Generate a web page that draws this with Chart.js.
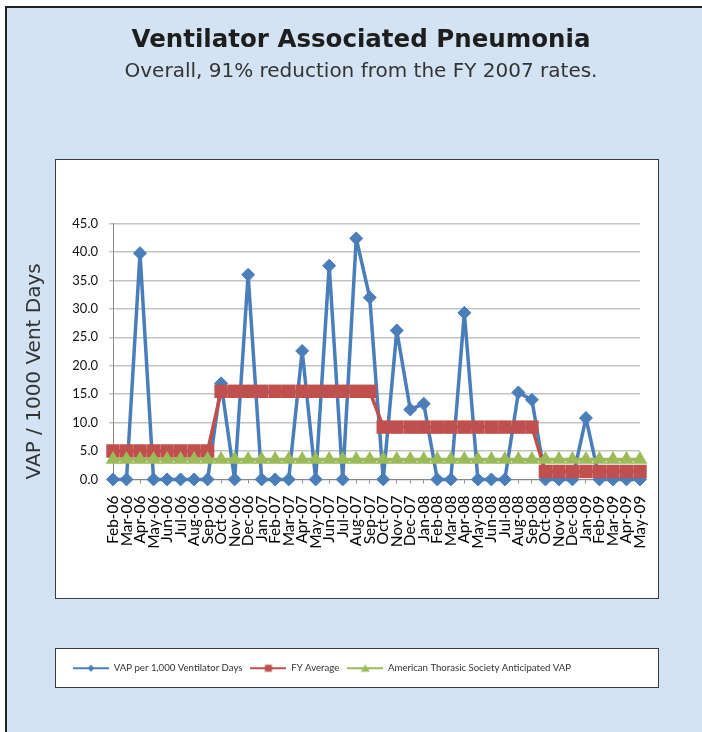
<!DOCTYPE html>
<html>
<head>
<meta charset="utf-8">
<script src="https://cdn.jsdelivr.net/npm/chart.js@4.4.1/dist/chart.umd.min.js"></script>
<style>
html,body{margin:0;padding:0;background:#fff;}
#wrap{position:relative;width:702px;height:732px;overflow:hidden;}
#panel{position:absolute;left:5px;top:6px;right:0;bottom:0;background:#d3e3f3;border-left:2.5px solid #222;border-top:2.5px solid #222;}
#plotbox{position:absolute;left:55px;top:159px;width:604px;height:440px;box-sizing:border-box;background:#fff;border:1.5px solid #3c3c3c;}
#legbox{position:absolute;left:55px;top:648px;width:604px;height:40px;box-sizing:border-box;background:#fff;border:1.5px solid #3c3c3c;}
#c{position:absolute;left:0;top:0;width:702px;height:732px;}
</style>
</head>
<body>
<div id="wrap">
  <div id="panel"></div>
  <div id="plotbox"></div>
  <div id="legbox"></div>
  <canvas id="c" width="702" height="732"></canvas>
</div>
<script>
// ---- Data ----
const months = ['Feb-06','Mar-06','Apr-06','May-06','Jun-06','Jul-06','Aug-06','Sep-06','Oct-06','Nov-06','Dec-06',
  'Jan-07','Feb-07','Mar-07','Apr-07','May-07','Jun-07','Jul-07','Aug-07','Sep-07','Oct-07','Nov-07','Dec-07',
  'Jan-08','Feb-08','Mar-08','Apr-08','May-08','Jun-08','Jul-08','Aug-08','Sep-08','Oct-08','Nov-08','Dec-08',
  'Jan-09','Feb-09','Mar-09','Apr-09','May-09'];

const vapPer1000 = [0, 0, 39.8, 0, 0, 0, 0, 0, 16.9, 0, 36.0,
  0, 0, 0, 22.6, 0, 37.6, 0, 42.4, 32.0, 0, 26.2, 12.3,
  13.3, 0, 0, 29.3, 0, 0, 0, 15.3, 14.0, 0, 0, 0,
  10.8, 0, 0, 0, 0];

const fyAverage = [5.0, 5.0, 5.0, 5.0, 5.0, 5.0, 5.0, 5.0, 15.5, 15.5, 15.5,
  15.5, 15.5, 15.5, 15.5, 15.5, 15.5, 15.5, 15.5, 15.5, 9.2, 9.2, 9.2,
  9.2, 9.2, 9.2, 9.2, 9.2, 9.2, 9.2, 9.2, 9.2, 1.4, 1.4, 1.4,
  1.4, 1.4, 1.4, 1.4, 1.4];

const atsAnticipated = [3.5, 3.5, 3.5, 3.5, 3.5, 3.5, 3.5, 3.5, 3.5, 3.5, 3.5,
  3.5, 3.5, 3.5, 3.5, 3.5, 3.5, 3.5, 3.5, 3.5, 3.5, 3.5, 3.5,
  3.5, 3.5, 3.5, 3.5, 3.5, 3.5, 3.5, 3.5, 3.5, 3.5, 3.5, 3.5,
  3.5, 3.5, 3.5, 3.5, 3.5];

const seriesNames = ['VAP per 1,000 Ventilator Days', 'FY Average', 'American Thorasic Society Anticipated VAP'];
const yTicksMin = 0, yTicksMax = 45, yTickStep = 5;

// ---- Styles ----
const BLUE = '#4a7ebb', RED = '#c0504d', GREEN = '#9bbb59';

function legendIcon(color, shape) {
  const c = document.createElement('canvas');
  c.width = 36; c.height = 10;
  const g = c.getContext('2d');
  g.strokeStyle = color; g.lineWidth = 2;
  g.beginPath(); g.moveTo(0, 5); g.lineTo(36, 5); g.stroke();
  g.fillStyle = color;
  g.beginPath();
  if (shape === 'diamond') { g.moveTo(18, 1.5); g.lineTo(21.5, 5); g.lineTo(18, 8.5); g.lineTo(14.5, 5); g.closePath(); }
  else if (shape === 'square') { g.rect(14.5, 1.5, 7, 7); }
  else { g.moveTo(18, 1); g.lineTo(22.5, 8.5); g.lineTo(13.5, 8.5); g.closePath(); }
  g.fill();
  return c;
}
const icons = [legendIcon(BLUE, 'diamond'), legendIcon(RED, 'square'), legendIcon(GREEN, 'triangle')];

const legendOffset = {
  id: 'legendOffset',
  afterLayout(chart) {
    const lg = chart.legend;
    if (lg) { lg.left += 45; lg.right += 45; }
  }
};

new Chart(document.getElementById('c'), {
  type: 'line',
  data: {
    labels: months,
    datasets: [
      { label: seriesNames[0], data: vapPer1000, borderColor: BLUE, backgroundColor: BLUE, borderWidth: 3.5,
        borderJoinStyle: 'round',
        pointStyle: 'rectRot', pointRadius: 6.5, pointBorderWidth: 1, pointBackgroundColor: BLUE, pointBorderColor: BLUE,
        tension: 0, clip: false, order: 2 },
      { label: seriesNames[1], data: fyAverage, borderColor: RED, backgroundColor: RED, borderWidth: 3.5,
        borderJoinStyle: 'round',
        pointStyle: 'rect', pointRadius: 9.5, pointBorderWidth: 0, pointBackgroundColor: RED, pointBorderColor: RED,
        tension: 0, clip: false, order: 1 },
      { label: seriesNames[2], data: atsAnticipated, borderColor: GREEN, backgroundColor: GREEN, borderWidth: 3.5,
        borderJoinStyle: 'round',
        pointStyle: 'triangle', pointRadius: 8.5, pointBorderWidth: 0, pointBackgroundColor: GREEN, pointBorderColor: GREEN,
        tension: 0, clip: false, order: 0 }
    ]
  },
  options: {
    responsive: false,
    animation: false,
    devicePixelRatio: 1,
    layout: { padding: { top: 6, left: 20, right: 0, bottom: 49 } },
    plugins: {
      title: { display: true, text: 'Ventilator Associated Pneumonia',
        font: { family: 'DejaVu Sans', size: 24.5, weight: 'bold' }, color: '#1e1e1e',
        padding: { top: 19.6, bottom: 0 } },
      subtitle: { display: true, text: 'Overall, 91% reduction from the FY 2007 rates.',
        font: { family: 'DejaVu Sans', size: 20 }, color: '#333',
        padding: { top: 4.6, bottom: 140 } },
      legend: {
        position: 'bottom', align: 'start',
        labels: {
          usePointStyle: true, pointStyleWidth: 36, padding: 8,
          font: { family: 'Lato', size: 9.6 }, color: '#333',
          sort: (a, b) => a.datasetIndex - b.datasetIndex,
          generateLabels(chart) {
            const items = Chart.defaults.plugins.legend.labels.generateLabels(chart);
            items.forEach(it => { it.pointStyle = icons[it.datasetIndex]; });
            return items;
          }
        }
      },
      tooltip: { enabled: false }
    },
    scales: {
      x: {
        type: 'category', offset: false,
        grid: { display: true, drawOnChartArea: false, drawTicks: true, tickLength: 4, color: '#888', lineWidth: 1 },
        border: { display: true, color: '#888', width: 1 },
        ticks: { autoSkip: false, minRotation: 90, maxRotation: 90, padding: 12,
          font: { family: 'Lato', size: 15.5 }, color: '#000' },
        afterFit(s) { s.height = 176; }
      },
      y: {
        position: 'left', min: yTicksMin, max: yTicksMax,
        ticks: { stepSize: yTickStep, callback: v => Number(v).toFixed(1), padding: 11,
          font: { family: 'Lato', size: 13 }, color: '#111' },
        grid: { color: '#c4c4c4', lineWidth: 1.5, tickLength: 4 },
        border: { color: '#888', width: 1 },
        title: { display: true, text: 'VAP / 1000 Vent Days', align: 'start',
          font: { family: 'DejaVu Sans', size: 20 }, color: '#333', padding: { top: 3, bottom: 0 } },
        afterFit(s) { s.width = 93; }
      },
      yPad: {
        type: 'linear', position: 'right', display: true,
        grid: { display: false, drawTicks: false }, border: { display: false }, ticks: { display: false },
        afterFit(s) { s.width = 62; }
      }
    }
  },
  plugins: [legendOffset]
});
</script>
</body>
</html>
